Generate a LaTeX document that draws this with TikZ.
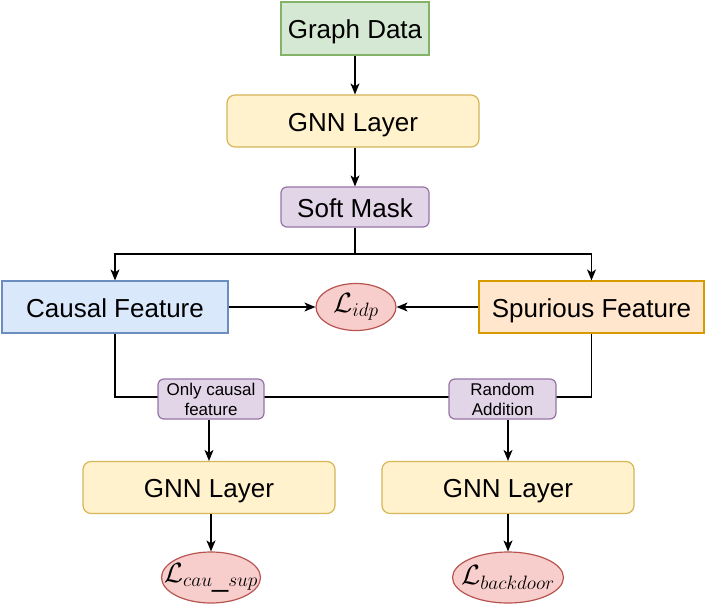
\documentclass[tikz,border=0pt]{standalone}
\usepackage{graphicx}
\usepackage{fontspec}
\setmainfont{Liberation Sans}
\usetikzlibrary{arrows.meta,shapes.geometric}
\definecolor{gfill}{HTML}{D5E8D4}\definecolor{gline}{HTML}{82B366}
\definecolor{yfill}{HTML}{FFF2CC}\definecolor{yline}{HTML}{D6B656}
\definecolor{pfill}{HTML}{E1D5E7}\definecolor{pline}{HTML}{9673A6}
\definecolor{bfill}{HTML}{DAE8FC}\definecolor{bline}{HTML}{6C8EBF}
\definecolor{ofill}{HTML}{FFE6CC}\definecolor{oline}{HTML}{D79B00}
\definecolor{rfill}{HTML}{F8CECC}\definecolor{rline}{HTML}{B85450}
\DeclareMathSizes{26}{26}{18.2}{13}
\newcommand{\lossmath}[1]{\makebox[0pt]{\scalebox{1.12}{$#1$}}}
\tikzset{
  box/.style={draw, line width=1.2pt, inner sep=0pt, align=center,
    text height=20pt, text depth=-1pt,
    font=\fontsize{26}{31}\selectfont},
  greenbox/.style={box, fill=gfill, draw=gline},
  yellowbox/.style={box, fill=yfill, draw=yline, rounded corners=8pt},
  purplebox/.style={box, fill=pfill, draw=pline, rounded corners=6pt},
  bluebox/.style={box, fill=bfill, draw=bline},
  orangebox/.style={box, fill=ofill, draw=oline},
  smallbox/.style={draw, line width=1.2pt, inner sep=0pt, align=center,
    fill=pfill, draw=pline, rounded corners=6pt, font=\fontsize{17}{20}\selectfont},
  lossnode/.style={ellipse, draw=rline, fill=rfill, line width=1.2pt, inner sep=0pt,
    font=\fontsize{26}{31}\selectfont},
  conn/.style={line width=1.2pt, black},
  arr/.style={conn, -{Stealth[length=11pt,width=9pt,inset=3pt]}}
}
\begin{document}
\begin{tikzpicture}[x=1pt,y=-1pt]
\useasboundingbox (0,0) rectangle (706,610);
% nodes
\node[greenbox, minimum width=148pt, minimum height=53pt] (gd) at (355,28.5) {Graph Data};
\node[yellowbox, minimum width=252pt, minimum height=52pt] (gnn1) at (353,121) {GNN Layer};
\node[purplebox, minimum width=148pt, minimum height=40pt] (sm) at (355,207) {Soft Mask};
\node[bluebox, minimum width=226pt, minimum height=52pt] (cf) at (115,307) {Causal Feature};
\node[orangebox, minimum width=225pt, minimum height=52pt] (sf) at (591.5,307) {Spurious Feature};
\node[lossnode, minimum width=80pt, minimum height=47pt] (idp) at (356,307) {\lossmath{\mathcal{L}_{idp}}};
\coordinate (bl) at (115,397);
\coordinate (br) at (355,254);
\draw[conn] (cf.south) -- (bl) -| (sf.south);
\node[smallbox, minimum width=106pt, minimum height=40pt] (ocf) at (211,399) {Only causal\\feature};
\node[smallbox, minimum width=107pt, minimum height=40pt] (ra) at (502.5,399) {Random\\Addition};
\node[yellowbox, minimum width=252pt, minimum height=52pt] (gl) at (209,487.5) {GNN Layer};
\node[yellowbox, minimum width=252pt, minimum height=52pt] (gr) at (508,487.5) {GNN Layer};
\node[lossnode, minimum width=99pt, minimum height=51pt] (lcs) at (211,577.5) {\lossmath{\mathcal{L}_{cau\_sup}}};
\node[lossnode, minimum width=111pt, minimum height=51pt] (lbd) at (508,577.5) {\lossmath{\mathcal{L}_{backdoor}}};
% connectors
\draw[arr] (gd.south) -- (gd.south |- gnn1.north);
\draw[arr] (gnn1.south -| sm.north) -- (sm.north);
\draw[conn] (sm.south) -- (br);
\draw[arr] (br) -| (cf.north);
\draw[arr] (br) -| (sf.north);
\draw[arr] (cf.east) -- (idp.west);
\draw[arr] (sf.west) -- (idp.east);
\draw[arr] (gl.north |- ocf.south) -- (gl.north);
\draw[arr] (gr.north |- ra.south) -- (gr.north);
\draw[arr] (gl.south -| lcs.north) -- (lcs.north);
\draw[arr] (gr.south -| lbd.north) -- (lbd.north);
\end{tikzpicture}
\end{document}
